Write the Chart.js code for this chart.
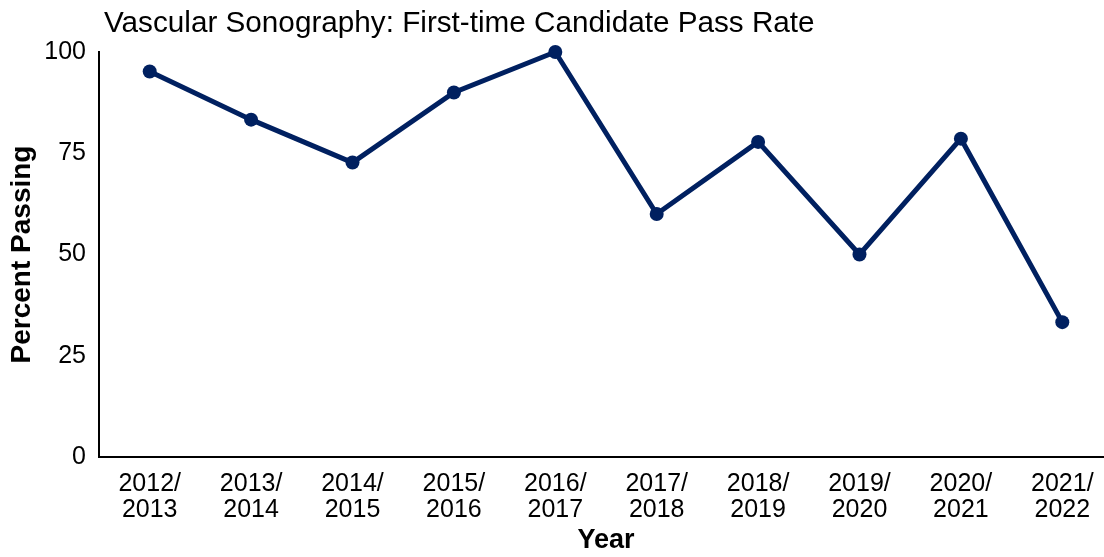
<!DOCTYPE html>
<html>
<head>
<meta charset="utf-8">
<script src="https://cdn.jsdelivr.net/npm/chart.js@4"></script>
<style>
  html, body { margin: 0; padding: 0; background: #fff; overflow: hidden; }
  #wrap { position: relative; width: 1104px; height: 557px; overflow: hidden; }
  #box { position: absolute; left: 0; top: 0; width: 1120px; height: 557px; }
  #title {
    position: absolute; left: 104px; top: 5px;
    font-family: "Liberation Sans", Arial, sans-serif; font-size: 29.7px; color: #000;
    white-space: nowrap;
  }
</style>
</head>
<body>
<div id="wrap">
  <div id="box"><canvas id="passChart"></canvas></div>
  <div id="title">Vascular Sonography: First-time Candidate Pass Rate</div>
</div>
<script>
// school years (two-line tick labels)
let years = [
  ['2012/', '2013'], ['2013/', '2014'], ['2014/', '2015'], ['2015/', '2016'], ['2016/', '2017'],
  ['2017/', '2018'], ['2018/', '2019'], ['2019/', '2020'], ['2020/', '2021'], ['2021/', '2022']
];
// percent of first-time candidates passing
let passRate = [95.2, 83.3, 72.7, 90.0, 100, 60.0, 77.8, 50.0, 78.6, 33.3];
let yTicks = [0, 25, 50, 75, 100];

let navy = '#002060';
let font = 'Liberation Sans, Arial, sans-serif';

let ctx = document.getElementById('passChart').getContext('2d');

let chart = new Chart(ctx, {
  type: 'line',
  data: {
    labels: years,
    datasets: [{
      label: 'Percent Passing',
      data: passRate,
      borderColor: navy,
      backgroundColor: navy,
      borderWidth: 5,
      pointRadius: 7,
      pointHoverRadius: 7,
      pointBorderWidth: 0,
      tension: 0,
      fill: false,
      clip: false
    }]
  },
  options: {
    responsive: true,
    maintainAspectRatio: false,
    animation: false,
    layout: { padding: { top: 52, right: 2, bottom: 0, left: 5 } },
    plugins: {
      legend: { display: false },
      tooltip: { enabled: false },
      title: { display: false }
    },
    scales: {
      x: {
        offset: true,
        grid: { display: false, drawTicks: false },
        border: { display: true, color: '#000', width: 2 },
        ticks: {
          color: '#000',
          font: { family: font, size: 25, lineHeight: 1.05 },
          padding: 14,
          maxRotation: 0,
          autoSkip: false
        },
        title: {
          display: true,
          text: 'Year',
          color: '#000',
          font: { family: font, size: 27, weight: 'bold' },
          padding: { top: 0, bottom: 0 }
        },
        afterFit: function (scale) { scale.height = 100; }
      },
      y: {
        min: 0,
        max: 100,
        grid: { display: false, drawTicks: false },
        border: { display: true, color: '#000', width: 2 },
        afterBuildTicks: function (scale) {
          scale.ticks = yTicks.map(v => ({ value: v }));
        },
        ticks: {
          color: '#000',
          font: { family: font, size: 25 },
          padding: 13
        },
        title: {
          display: true,
          text: 'Percent Passing',
          color: '#000',
          font: { family: font, size: 28, weight: 'bold' },
          padding: { top: 0, bottom: 8 }
        },
        afterFit: function (scale) { scale.width = 94; }
      }
    }
  }
});
</script>
</body>
</html>
